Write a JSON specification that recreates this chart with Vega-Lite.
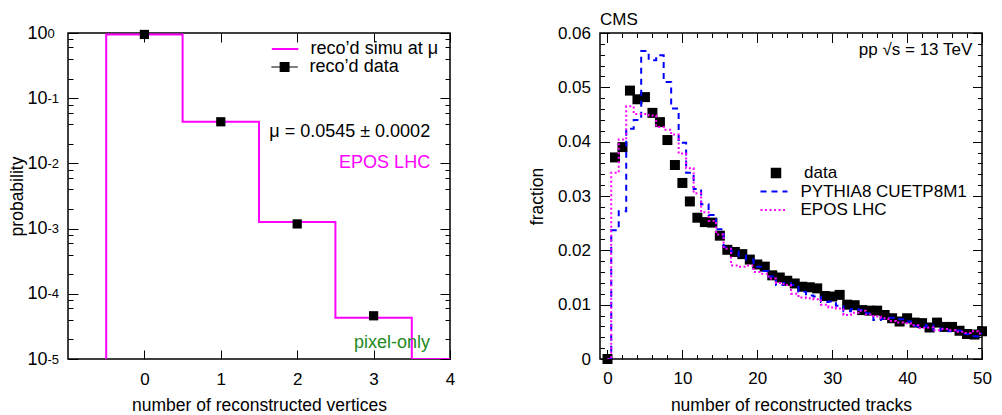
{
  "$schema": "https://vega.github.io/schema/vega-lite/v6.json",
  "padding": {"left": 7, "top": 10, "right": 5, "bottom": 5},
  "background": "white",
  "bounds": "flush",
  "spacing": 150,
  "resolve": {
    "scale": {"fill": "independent", "stroke": "independent", "strokeDash": "independent"},
    "legend": {"fill": "independent", "stroke": "independent", "strokeDash": "independent"}
  },
  "config": {
    "font": "Liberation Sans",
    "view": {"stroke": "black", "strokeWidth": 1.5},
    "axis": {
      "labelFont": "Liberation Sans", "titleFont": "Liberation Sans",
      "labelFontSize": 17, "titleFontSize": 17.5, "titleFontWeight": "normal",
      "labelColor": "black", "titleColor": "black", "tickColor": "black",
      "grid": false, "tickWidth": 1, "domain": false, "labelFlush": false
    },
    "legend": {
      "orient": "none", "title": null, "padding": 0, "labelFont": "Liberation Sans", "labelColor": "black",
      "labelLimit": 0, "clipHeight": 18, "rowPadding": 0
    }
  },
  "datasets": {
    "vtxData": [
      {"n": 0, "p": 0.95},
      {"n": 1, "p": 0.0435},
      {"n": 2, "p": 0.00118},
      {"n": 3, "p": 0.000046}
    ],
    "vtxSimu": [
      {"k": 0, "edge": -0.5, "p": 0.00001},
      {"k": 1, "edge": -0.5, "p": 0.95},
      {"k": 2, "edge": 0.5, "p": 0.0436},
      {"k": 3, "edge": 1.5, "p": 0.00126},
      {"k": 4, "edge": 2.5, "p": 0.000043},
      {"k": 5, "edge": 3.5, "p": 0.00001},
      {"k": 6, "edge": 4.5, "p": 0.00001}
    ],
    "tracks": [
      {"n": 0, "d": 0.0, "p": 0.0, "e": 0.0},
      {"n": 1, "d": 0.0371, "p": 0.0237, "e": 0.0343},
      {"n": 2, "d": 0.0390, "p": 0.0272, "e": 0.0404},
      {"n": 3, "d": 0.0494, "p": 0.0424, "e": 0.0465},
      {"n": 4, "d": 0.0478, "p": 0.0440, "e": 0.0451},
      {"n": 5, "d": 0.0482, "p": 0.0567, "e": 0.0451},
      {"n": 6, "d": 0.0453, "p": 0.0550, "e": 0.0448},
      {"n": 7, "d": 0.0436, "p": 0.0559, "e": 0.0427},
      {"n": 8, "d": 0.0403, "p": 0.0510, "e": 0.0422},
      {"n": 9, "d": 0.0357, "p": 0.0461, "e": 0.0413},
      {"n": 10, "d": 0.0324, "p": 0.0398, "e": 0.0378},
      {"n": 11, "d": 0.0290, "p": 0.0343, "e": 0.0351},
      {"n": 12, "d": 0.0260, "p": 0.0313, "e": 0.0305},
      {"n": 13, "d": 0.0252, "p": 0.0285, "e": 0.0270},
      {"n": 14, "d": 0.0251, "p": 0.0265, "e": 0.0254},
      {"n": 15, "d": 0.0227, "p": 0.0239, "e": 0.0229},
      {"n": 16, "d": 0.0201, "p": 0.0206, "e": 0.0203},
      {"n": 17, "d": 0.0197, "p": 0.0198, "e": 0.0172},
      {"n": 18, "d": 0.0193, "p": 0.0190, "e": 0.0170},
      {"n": 19, "d": 0.0183, "p": 0.0183, "e": 0.0172},
      {"n": 20, "d": 0.0174, "p": 0.0170, "e": 0.0160},
      {"n": 21, "d": 0.0170, "p": 0.0162, "e": 0.0157},
      {"n": 22, "d": 0.0154, "p": 0.0152, "e": 0.0148},
      {"n": 23, "d": 0.0150, "p": 0.0136, "e": 0.0140},
      {"n": 24, "d": 0.0144, "p": 0.0140, "e": 0.0136},
      {"n": 25, "d": 0.0139, "p": 0.0136, "e": 0.0120},
      {"n": 26, "d": 0.0133, "p": 0.0124, "e": 0.0113},
      {"n": 27, "d": 0.0132, "p": 0.0117, "e": 0.0112},
      {"n": 28, "d": 0.0130, "p": 0.0115, "e": 0.0110},
      {"n": 29, "d": 0.0116, "p": 0.0105, "e": 0.0100},
      {"n": 30, "d": 0.0115, "p": 0.0106, "e": 0.0095},
      {"n": 31, "d": 0.0118, "p": 0.0098, "e": 0.0093},
      {"n": 32, "d": 0.0100, "p": 0.0088, "e": 0.0081},
      {"n": 33, "d": 0.0099, "p": 0.0092, "e": 0.0085},
      {"n": 34, "d": 0.0090, "p": 0.0090, "e": 0.0089},
      {"n": 35, "d": 0.0089, "p": 0.0084, "e": 0.0082},
      {"n": 36, "d": 0.0089, "p": 0.0072, "e": 0.0078},
      {"n": 37, "d": 0.0081, "p": 0.0074, "e": 0.0075},
      {"n": 38, "d": 0.0075, "p": 0.0076, "e": 0.0070},
      {"n": 39, "d": 0.0069, "p": 0.0073, "e": 0.0067},
      {"n": 40, "d": 0.0075, "p": 0.0069, "e": 0.0066},
      {"n": 41, "d": 0.0067, "p": 0.0061, "e": 0.0062},
      {"n": 42, "d": 0.0066, "p": 0.0059, "e": 0.0057},
      {"n": 43, "d": 0.0058, "p": 0.0062, "e": 0.0058},
      {"n": 44, "d": 0.0067, "p": 0.0053, "e": 0.0053},
      {"n": 45, "d": 0.0059, "p": 0.0056, "e": 0.0055},
      {"n": 46, "d": 0.0059, "p": 0.0051, "e": 0.0053},
      {"n": 47, "d": 0.0052, "p": 0.0052, "e": 0.0050},
      {"n": 48, "d": 0.0046, "p": 0.0046, "e": 0.0048},
      {"n": 49, "d": 0.0045, "p": 0.0042, "e": 0.0051},
      {"n": 50, "d": 0.0051, "p": 0.0047, "e": 0.0047}
    ]
  },
  "hconcat": [
    {
      "width": 382,
      "height": 326,
      "resolve": {"axis": {"x": "independent", "y": "independent"}},
      "layer": [
        {
          "data": {"name": "vtxSimu"},
          "mark": {"type": "line", "interpolate": "step-after", "strokeWidth": 2, "clip": true},
          "encoding": {
            "x": {"field": "edge", "type": "quantitative", "scale": {"domain": [-1, 4], "nice": false, "zero": false}, "axis": null},
            "y": {"field": "p", "type": "quantitative", "scale": {"type": "log", "domain": [0.00001, 1], "nice": false}, "axis": null},
            "order": {"field": "k"},
            "stroke": {"datum": "reco’d simu at μ", "type": "nominal", "scale": {"range": ["#ff00ff"]},
                       "legend": {"legendX": 202.6, "legendY": 7, "labelFontSize": 18, "labelOffset": 11,
                                  "symbolType": "stroke", "symbolSize": 700, "symbolStrokeWidth": 2}}
          }
        },
        {
          "data": {"name": "vtxData"},
          "mark": {"type": "point", "shape": "square", "filled": true, "size": 85, "opacity": 1},
          "encoding": {
            "x": {"field": "n", "type": "quantitative", "scale": {"domain": [-1, 4], "nice": false, "zero": false},
                  "axis": {"orient": "bottom", "values": [0, 1, 2, 3, 4], "tickSize": -9, "labelPadding": 21,
                           "title": "number of reconstructed vertices", "titleY": 51, "titleBaseline": "alphabetic"}},
            "y": {"field": "p", "type": "quantitative", "scale": {"type": "log", "domain": [0.00001, 1], "nice": false},
                  "axis": {"orient": "left", "values": [0.00001, 0.0001, 0.001, 0.01, 0.1, 1], "tickSize": -10, "labelPadding": 31,
                           "labelExpr": "'10'", "labelFontSize": 18,
                           "title": "probability", "titleX": -51, "titleBaseline": "middle"}},
            "fill": {"datum": "reco’d data", "type": "nominal", "scale": {"range": ["#000000"]},
                     "legend": {"legendX": 202.6, "legendY": 25, "labelFontSize": 18, "labelOffset": 11,
                                "symbolType": "M-1,0H1M-0.33,-0.33H0.33V0.33H-0.33Z", "symbolSize": 700,
                                "symbolStrokeColor": "#000000", "symbolStrokeWidth": 1.2}}
          }
        },
        {
          "data": {"name": "vtxData"},
          "mark": {"type": "point", "opacity": 0},
          "encoding": {
            "x": {"field": "n", "type": "quantitative", "scale": {"domain": [-1, 4], "nice": false, "zero": false},
                  "axis": {"orient": "top", "values": [0, 1, 2, 3, 4], "tickSize": -9, "labels": false, "title": null}},
            "y": {"field": "p", "type": "quantitative", "scale": {"type": "log", "domain": [0.00001, 1], "nice": false},
                  "axis": {"orient": "right", "values": [0.00001, 0.0001, 0.001, 0.01, 0.1, 1], "tickSize": -10, "labels": false, "title": null}}
          }
        },
        {
          "data": {"name": "vtxData"},
          "mark": {"type": "point", "opacity": 0},
          "encoding": {
            "x": {"field": "n", "type": "quantitative", "scale": {"domain": [-1, 4], "nice": false, "zero": false}, "axis": null},
            "y": {"field": "p", "type": "quantitative", "scale": {"type": "log", "domain": [0.00001, 1], "nice": false},
                  "axis": {"orient": "left", "values": [0.00002, 0.00004, 0.00006, 0.00008, 0.0002, 0.0004, 0.0006, 0.0008, 0.002, 0.004, 0.006, 0.008, 0.02, 0.04, 0.06, 0.08, 0.2, 0.4, 0.6, 0.8],
                           "tickSize": -5, "labels": false, "title": null}}
          }
        },
        {
          "data": {"name": "vtxData"},
          "mark": {"type": "point", "opacity": 0},
          "encoding": {
            "x": {"field": "n", "type": "quantitative", "scale": {"domain": [-1, 4], "nice": false, "zero": false}, "axis": null},
            "y": {"field": "p", "type": "quantitative", "scale": {"type": "log", "domain": [0.00001, 1], "nice": false},
                  "axis": {"orient": "right", "values": [0.00002, 0.00004, 0.00006, 0.00008, 0.0002, 0.0004, 0.0006, 0.0008, 0.002, 0.004, 0.006, 0.008, 0.02, 0.04, 0.06, 0.08, 0.2, 0.4, 0.6, 0.8],
                           "tickSize": -5, "labels": false, "title": null}}
          }
        },
        {
          "data": {"name": "vtxData"},
          "mark": {"type": "point", "opacity": 0},
          "encoding": {
            "x": {"field": "n", "type": "quantitative", "scale": {"domain": [-1, 4], "nice": false, "zero": false}, "axis": null},
            "y": {"field": "p", "type": "quantitative", "scale": {"type": "log", "domain": [0.00001, 1], "nice": false},
                  "axis": {"orient": "left", "values": [0.00001, 0.0001, 0.001, 0.01, 0.1, 1], "ticks": false, "tickSize": 0,
                           "labelPadding": 21, "labelAlign": "left", "labelFontSize": 13, "labelDy": -7,
                           "labelExpr": "['0','-1','-2','-3','-4','-5'][round(-log(datum.value)/LN10)]",
                           "title": null}}
          }
        },
        {
          "data": {"values": [{}]},
          "mark": {"type": "text", "align": "right", "baseline": "middle", "fontSize": 18, "font": "Liberation Sans", "color": "black"},
          "encoding": {
            "x": {"datum": 3.74, "type": "quantitative", "scale": {"domain": [-1, 4], "nice": false, "zero": false}, "axis": null},
            "y": {"datum": 0.03, "type": "quantitative", "scale": {"type": "log", "domain": [0.00001, 1], "nice": false}, "axis": null},
            "text": {"value": "μ = 0.0545 ± 0.0002"}
          }
        },
        {
          "data": {"values": [{}]},
          "mark": {"type": "text", "align": "right", "baseline": "middle", "fontSize": 18, "font": "Liberation Sans", "color": "#ff00ff"},
          "encoding": {
            "x": {"datum": 3.74, "type": "quantitative", "scale": {"domain": [-1, 4], "nice": false, "zero": false}, "axis": null},
            "y": {"datum": 0.0102, "type": "quantitative", "scale": {"type": "log", "domain": [0.00001, 1], "nice": false}, "axis": null},
            "text": {"value": "EPOS LHC"}
          }
        },
        {
          "data": {"values": [{}]},
          "mark": {"type": "text", "align": "right", "baseline": "middle", "fontSize": 18, "font": "Liberation Sans", "color": "#1e8a1e"},
          "encoding": {
            "x": {"datum": 3.74, "type": "quantitative", "scale": {"domain": [-1, 4], "nice": false, "zero": false}, "axis": null},
            "y": {"datum": 0.0000177, "type": "quantitative", "scale": {"type": "log", "domain": [0.00001, 1], "nice": false}, "axis": null},
            "text": {"value": "pixel-only"}
          }
        }
      ]
    },
    {
      "width": 382,
      "height": 326,
      "title": {"text": "CMS", "anchor": "start", "frame": "group", "fontSize": 17, "fontWeight": "normal", "font": "Liberation Sans", "color": "black", "offset": -5},
      "resolve": {"axis": {"x": "independent", "y": "independent"}},
      "data": {"name": "tracks"},
      "layer": [
        {
          "mark": {"type": "point", "shape": "square", "filled": true, "size": 100, "opacity": 1},
          "encoding": {
            "x": {"field": "n", "type": "quantitative", "scale": {"domain": [-1, 50], "nice": false, "zero": false},
                  "axis": {"orient": "bottom", "values": [0, 10, 20, 30, 40, 50], "tickSize": -9.5, "labelPadding": 21,
                           "title": "number of reconstructed tracks", "titleY": 51, "titleBaseline": "alphabetic"}},
            "y": {"field": "d", "type": "quantitative", "scale": {"domain": [0, 0.06], "nice": false},
                  "axis": {"orient": "left", "values": [0, 0.01, 0.02, 0.03, 0.04, 0.05, 0.06], "tickSize": -9.5, "labelPadding": 19,
                           "format": ".2~f", "title": "fraction", "titleX": -63, "titleBaseline": "middle"}},
            "fill": {"datum": "data", "type": "nominal", "scale": {"range": ["#000000"]},
                     "legend": {"legendX": 167.5, "legendY": 131, "labelFontSize": 17, "labelOffset": 19.5,
                                "symbolType": "square", "symbolSize": 110}}
          }
        },
        {
          "mark": {"type": "line", "interpolate": "step", "strokeWidth": 2, "strokeDash": [6, 5], "clip": true},
          "encoding": {
            "x": {"field": "n", "type": "quantitative", "scale": {"domain": [-1, 50], "nice": false, "zero": false},
                  "axis": {"orient": "top", "values": [0, 10, 20, 30, 40, 50], "tickSize": -9.5, "labels": false, "title": null}},
            "y": {"field": "p", "type": "quantitative", "scale": {"domain": [0, 0.06], "nice": false},
                  "axis": {"orient": "right", "values": [0, 0.01, 0.02, 0.03, 0.04, 0.05, 0.06], "tickSize": -9.5, "labels": false, "title": null}},
            "stroke": {"datum": "PYTHIA8 CUETP8M1", "type": "nominal", "scale": {"range": ["#0000ff"]},
                       "legend": {"legendX": 159, "legendY": 149.5, "labelFontSize": 17, "labelOffset": 11.5,
                                  "symbolType": "stroke", "symbolSize": 730, "symbolStrokeWidth": 2, "symbolDash": [6, 5]}}
          }
        },
        {
          "mark": {"type": "line", "interpolate": "step", "strokeWidth": 2, "clip": true, "color": "#ff00ff"},
          "encoding": {
            "x": {"field": "n", "type": "quantitative", "scale": {"domain": [-1, 50], "nice": false, "zero": false},
                  "axis": {"orient": "bottom", "values": [2, 4, 6, 8, 12, 14, 16, 18, 22, 24, 26, 28, 32, 34, 36, 38, 42, 44, 46, 48], "tickSize": -4.5, "labels": false, "title": null}},
            "y": {"field": "e", "type": "quantitative", "scale": {"domain": [0, 0.06], "nice": false},
                  "axis": {"orient": "left", "values": [0.002, 0.004, 0.006, 0.008, 0.012, 0.014, 0.016, 0.018, 0.022, 0.024, 0.026, 0.028, 0.032, 0.034, 0.036, 0.038, 0.042, 0.044, 0.046, 0.048, 0.052, 0.054, 0.056, 0.058], "tickSize": -4.5, "labels": false, "title": null}},
            "strokeDash": {"datum": "EPOS LHC", "type": "nominal", "scale": {"range": [[2, 2.5]]},
                           "legend": {"legendX": 159, "legendY": 168, "labelFontSize": 17, "labelOffset": 11.5,
                                      "symbolType": "stroke", "symbolSize": 730, "symbolStrokeWidth": 2, "symbolStrokeColor": "#ff00ff"}}
          }
        },
        {
          "mark": {"type": "point", "opacity": 0},
          "encoding": {
            "x": {"field": "n", "type": "quantitative", "scale": {"domain": [-1, 50], "nice": false, "zero": false},
                  "axis": {"orient": "top", "values": [2, 4, 6, 8, 12, 14, 16, 18, 22, 24, 26, 28, 32, 34, 36, 38, 42, 44, 46, 48], "tickSize": -4.5, "labels": false, "title": null}},
            "y": {"field": "d", "type": "quantitative", "scale": {"domain": [0, 0.06], "nice": false},
                  "axis": {"orient": "right", "values": [0.002, 0.004, 0.006, 0.008, 0.012, 0.014, 0.016, 0.018, 0.022, 0.024, 0.026, 0.028, 0.032, 0.034, 0.036, 0.038, 0.042, 0.044, 0.046, 0.048, 0.052, 0.054, 0.056, 0.058], "tickSize": -4.5, "labels": false, "title": null}}
          }
        },
        {
          "data": {"values": [{}]},
          "mark": {"type": "text", "align": "right", "baseline": "middle", "fontSize": 17, "font": "Liberation Sans", "color": "black"},
          "encoding": {
            "x": {"datum": 48.7, "type": "quantitative", "scale": {"domain": [-1, 50], "nice": false, "zero": false}, "axis": null},
            "y": {"datum": 0.0569, "type": "quantitative", "scale": {"domain": [0, 0.06], "nice": false}, "axis": null},
            "text": {"value": "pp √s = 13 TeV"}
          }
        }
      ]
    }
  ]
}
